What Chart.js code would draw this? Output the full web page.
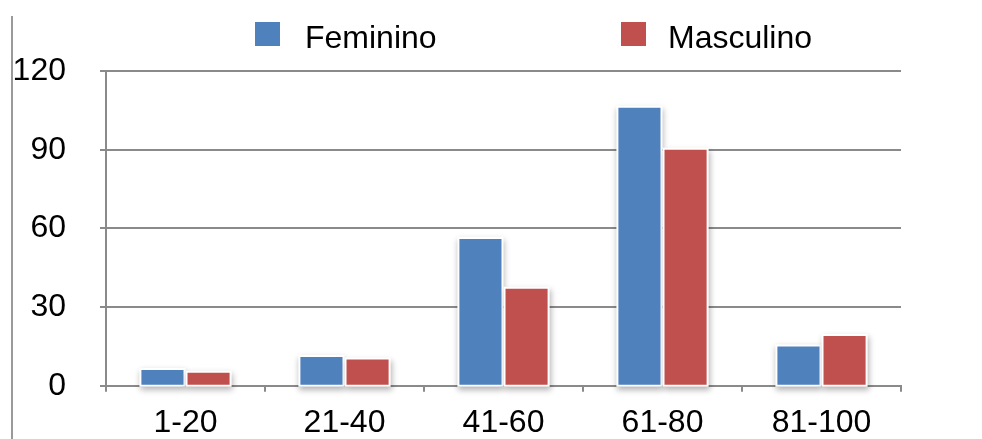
<!DOCTYPE html>
<html>
<head>
<meta charset="utf-8">
<script src="https://cdn.jsdelivr.net/npm/chart.js@4/dist/chart.umd.min.js"></script>
<style>
  body { margin: 0; background: #fff; font-family: "Liberation Sans", Arial, sans-serif; }
  #wrap { position: relative; width: 982px; height: 439px; }
  #frame { position: absolute; left: 11px; top: 16px; height: 423px; border-left: 2px solid #9a9a9a; }
  .key { position: absolute; top: 21px; font-size: 32px; line-height: 32px; color: #000; }
  .box { position: absolute; top: 22px; width: 25px; height: 24px; }
</style>
</head>
<body>
<div id="wrap">
  <canvas id="chart"></canvas>
  <div id="frame"></div>
  <div class="box" style="left:255px;background:#4F81BD"></div>
  <div class="key" style="left:305px">Feminino</div>
  <div class="box" style="left:621px;background:#C0504D"></div>
  <div class="key" style="left:668px">Masculino</div>
</div>
<script>
// data
const ageGroups = ['1-20', '21-40', '41-60', '61-80', '81-100'];
const feminino = [6, 11, 56, 106, 15];
const masculino = [5, 10, 37, 90, 19];

const gray = '#8a8a8a';

// white halo + soft shadow behind every bar (Excel look)
const barGlow = {
    id: 'barGlow',
    beforeDatasetsDraw(chart) {
        const ctx = chart.ctx;
        ctx.save();
        ctx.fillStyle = '#fff';
        ctx.shadowColor = 'rgba(0,0,0,0.3)';
        ctx.shadowBlur = 6;
        ctx.shadowOffsetX = 1;
        ctx.shadowOffsetY = 3;
        chart.data.datasets.forEach((ds, i) => {
            chart.getDatasetMeta(i).data.forEach(bar => {
                const p = bar.getProps(['x', 'y', 'base', 'width'], true);
                ctx.fillRect(p.x - p.width / 2 - 2, p.y - 2, p.width + 4, p.base - p.y + 4);
            });
        });
        ctx.restore();
    }
};

new Chart(document.querySelector('#chart'), {
    type: 'bar',
    data: {
        labels: ageGroups,
        datasets: [
            { label: 'Feminino', data: feminino, backgroundColor: '#4F81BD' },
            { label: 'Masculino', data: masculino, backgroundColor: '#C0504D' }
        ]
    },
    options: {
        responsive: true,
        maintainAspectRatio: false,
        animation: false,
        categoryPercentage: 0.58,
        barPercentage: 0.913,
        layout: { padding: { left: 14, right: 81, top: 71, bottom: 0 } },
        plugins: {
            legend: { display: false },
            tooltip: { enabled: false }
        },
        scales: {
            x: {
                afterFit: (scale) => { scale.height = 53; },
                grid: { drawOnChartArea: false, drawTicks: true, tickLength: 6, color: gray, lineWidth: 2 },
                border: { color: gray, width: 2 },
                ticks: {
                    color: '#000',
                    padding: 15,
                    font: { family: 'Liberation Sans', size: 32, lineHeight: 1 }
                }
            },
            y: {
                min: 0,
                max: 120,
                afterFit: (scale) => { scale.width = 92; },
                grid: { color: gray, lineWidth: 2, tickLength: 6 },
                border: { color: gray, width: 2 },
                ticks: {
                    stepSize: 30,
                    color: '#000',
                    padding: 34,
                    font: { family: 'Liberation Sans', size: 32 }
                }
            }
        }
    },
    plugins: [barGlow]
});
</script>
</body>
</html>
